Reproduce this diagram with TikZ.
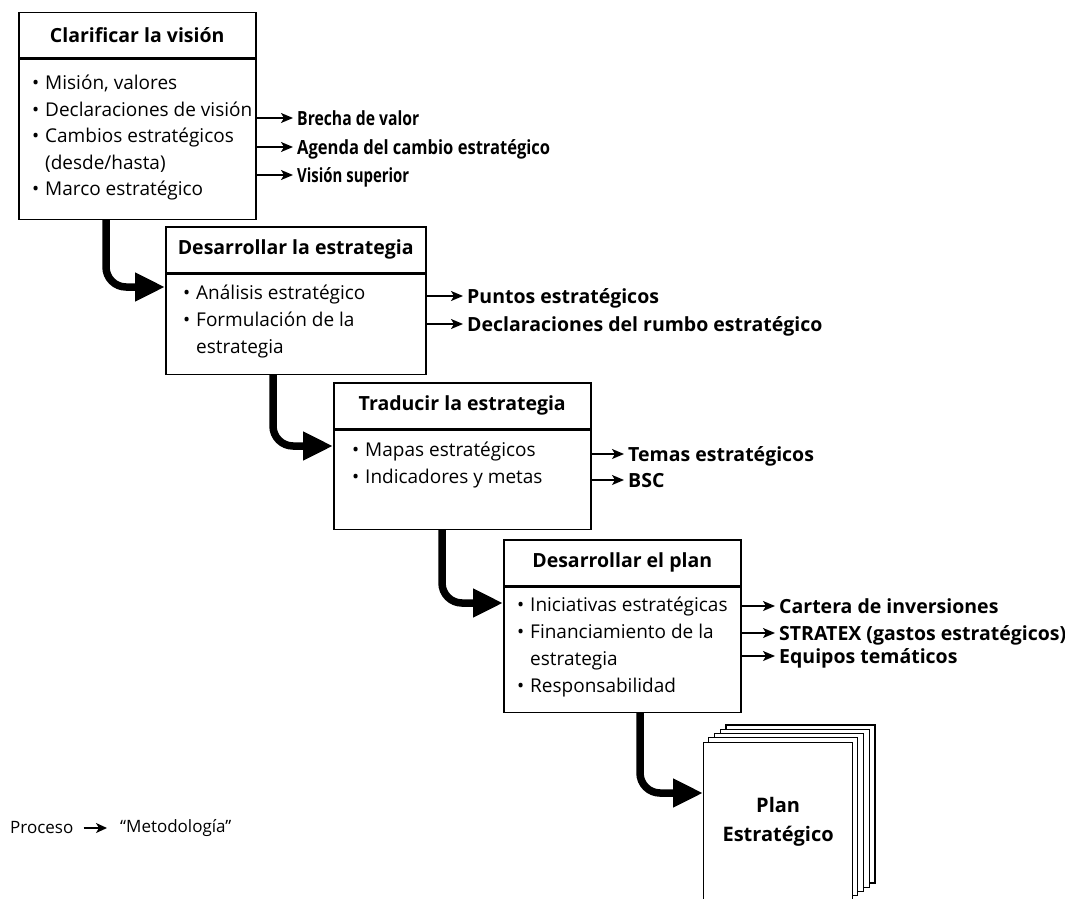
\documentclass[tikz,border=0pt]{standalone}
\usepackage{fontspec}
\setmainfont{Open Sans}
\usepackage{graphicx}
\usetikzlibrary{arrows.meta}
\newcommand{\bitem}{\strut\makebox[13pt][l]{\textbullet}}
\newcommand{\bcont}{\strut\hspace*{13pt}}
\tikzset{
  boxline/.style={draw, line width=1.5pt},
  hdr/.style={boxline, anchor=north west, inner sep=0pt, font=\fontsize{19.5}{26.5}\selectfont\bfseries},
  bodybox/.style={boxline, anchor=north west, inner sep=0pt},
  bodytext/.style={anchor=north west, inner sep=0pt, align=left},
  lbl/.style={anchor=west, inner sep=0pt, text height=14pt, text depth=0pt, font=\fontsize{19.5}{22}\selectfont\bfseries},
  thinarrow/.style={line width=1.5pt, -{Stealth[length=12pt,width=10pt,inset=3pt]}, shorten >=4pt},
  flow/.style={line width=7.5pt, rounded corners=20pt, -{Triangle[length=30pt,width=27pt]}},
  pageline/.style={draw, line width=1.3pt, fill=white},
}
\begin{document}
\begin{tikzpicture}[x=1pt,y=-1pt]
\useasboundingbox (0,0) rectangle (1065,899);
\fill[white] (0,0) rectangle (1065,899);

% Box 1
\node[hdr, minimum width=237pt, minimum height=45pt] (h1) at (18,12) {Clarificar la visión};
\node[bodybox, minimum width=237pt, minimum height=160pt] (b1) at (h1.south west) {};
\node[bodytext, font=\fontsize{19}{26.5}\selectfont] (t1) at (32,71) {\bitem Misión, valores\\ \bitem Declaraciones de visión\\ \bitem Cambios estratégicos\\ \bcont (desde/hasta)\\ \bitem Marco estratégico};

% Box 2
\node[hdr, minimum width=260pt, minimum height=46pt] (h2) at (165,226) {Desarrollar la estrategia};
\node[bodybox, minimum width=260pt, minimum height=100pt] (b2) at (h2.south west) {};
\node[bodytext, font=\fontsize{19}{27}\selectfont] (t2) at (183,280.5) {\bitem Análisis estratégico\\ \bitem Formulación de la\\ \bcont estrategia};

% Box 3
\node[hdr, minimum width=257pt, minimum height=46pt] (h3) at (333,382) {Traducir la estrategia};
\node[bodybox, minimum width=257pt, minimum height=99pt] (b3) at (h3.south west) {};
\node[bodytext, font=\fontsize{19}{27}\selectfont] (t3) at (352,437.5) {\bitem Mapas estratégicos\\ \bitem Indicadores y metas};

% Box 4
\node[hdr, minimum width=237pt, minimum height=46pt] (h4) at (503,539) {Desarrollar el plan};
\node[bodybox, minimum width=237pt, minimum height=125pt] (b4) at (h4.south west) {};
\node[bodytext, font=\fontsize{19}{27}\selectfont] (t4) at (517,592.5) {\bitem Iniciativas estratégicas\\ \bitem Financiamiento de la\\ \bcont estrategia\\ \bitem Responsabilidad};

% Labels box 1
\node[lbl] (l11) at (297,118) {\resizebox{122pt}{\height}{Brecha de valor}};
\node[lbl] (l12) at (297,147) {\resizebox{253pt}{\height}{Agenda del cambio estratégico}};
\node[lbl] (l13) at (297,175) {\resizebox{112pt}{\height}{Visión superior}};
\draw[thinarrow] (b1.east |- l11.west) -- (l11.west);
\draw[thinarrow] (b1.east |- l12.west) -- (l12.west);
\draw[thinarrow] (b1.east |- l13.west) -- (l13.west);

% Labels box 2
\node[lbl] (l21) at (467,296) {Puntos estratégicos};
\node[lbl] (l22) at (467,324) {Declaraciones del rumbo estratégico};
\draw[thinarrow] (b2.east |- l21.west) -- (l21.west);
\draw[thinarrow] (b2.east |- l22.west) -- (l22.west);

% Labels box 3
\node[lbl] (l31) at (628,454) {Temas estratégicos};
\node[lbl] (l32) at (628,480) {BSC};
\draw[thinarrow] (b3.east |- l31.west) -- (l31.west);
\draw[thinarrow] (b3.east |- l32.west) -- (l32.west);

% Labels box 4
\node[lbl] (l41) at (779,606) {Cartera de inversiones};
\node[lbl] (l42) at (779,633) {STRATEX (gastos estratégicos)};
\node[lbl] (l43) at (779,656) {Equipos temáticos};
\draw[thinarrow] (b4.east |- l41.west) -- (l41.west);
\draw[thinarrow] (b4.east |- l42.west) -- (l42.west);
\draw[thinarrow] (b4.east |- l43.west) -- (l43.west);

% Plan stack
\begin{scope}
\clip (0,0) rectangle (1065,899);
\foreach \i in {4,3,2,1} {
  \draw[pageline] (703+5.75*\i, 742-4.25*\i) rectangle ++(149,158);
}
\node[pageline, anchor=north west, minimum width=149pt, minimum height=158pt, inner sep=0pt, align=center, font=\fontsize{20}{29}\selectfont\bfseries] (plan) at (703,742) {Plan\\Estratégico};
\end{scope}

% Flow arrows
\draw[flow] (b1.south -| 106,0) |- (b2.west |- 0,287);
\draw[flow] (b2.south -| 273,0) |- (b3.west |- 0,446);
\draw[flow] (b3.south -| 442,0) |- (b4.west |- 0,603);
\draw[flow] (b4.south -| 640,0) |- (plan.west |- 0,793);

% Legend
\node[anchor=west, inner sep=0pt, font=\fontsize{17}{20}\selectfont] (proc) at (10,828) {Proceso};
\node[anchor=west, inner sep=0pt, font=\fontsize{17}{20}\selectfont] (meto) at (120,828) {“Metodología”};
\draw[line width=1.5pt, -{Stealth[length=11pt,width=10pt,inset=3pt]}, shorten <=10pt, shorten >=13pt] (proc.east) -- (meto.west);
\end{tikzpicture}
\end{document}
